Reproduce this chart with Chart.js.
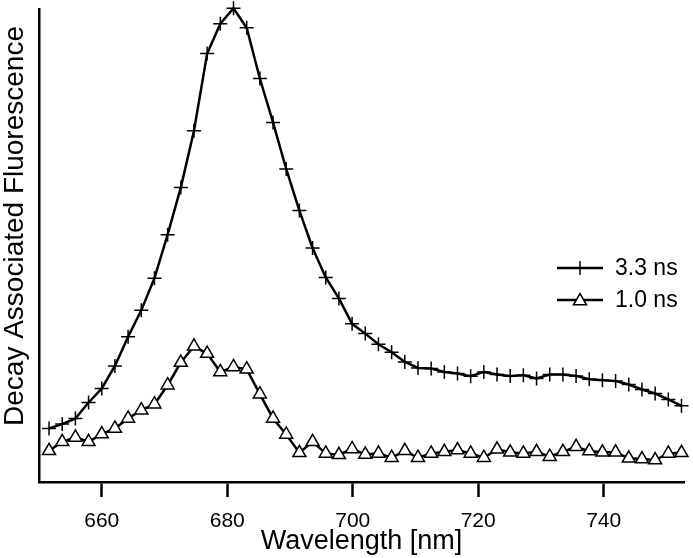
<!DOCTYPE html>
<html>
<head>
<meta charset="utf-8">
<script src="https://cdn.jsdelivr.net/npm/chart.js@4/dist/chart.umd.min.js"></script>
<style>
  html, body { margin: 0; padding: 0; background: #fff; }
  #wrap { width: 693px; height: 558px; position: relative; }
</style>
</head>
<body>
<div id="wrap"><canvas id="c" width="693" height="558"></canvas></div>
<script>
// Wavelengths [nm]
const wavelengths = [651.6, 653.7, 655.8, 657.9, 660.0, 662.1, 664.2, 666.3, 668.4, 670.5,
  672.6, 674.7, 676.8, 678.9, 681.0, 683.1, 685.2, 687.3, 689.4, 691.5,
  693.6, 695.7, 697.8, 699.9, 702.0, 704.1, 706.2, 708.3, 710.4, 712.5,
  714.6, 716.7, 718.8, 720.9, 723.0, 725.1, 727.2, 729.3, 731.4, 733.5,
  735.6, 737.7, 739.8, 741.9, 744.0, 746.1, 748.2, 750.3, 752.4];

// Decay associated fluorescence (arb. units), 3.3 ns component
const das33 = [11.33, 12.24, 13.44, 16.81, 19.77, 24.54, 30.70, 36.29, 43.10, 52.28,
  62.24, 74.26, 90.57, 96.90, 100.15, 96.05, 85.30, 76.01, 66.18, 57.38,
  49.47, 43.25, 38.82, 33.44, 31.37, 29.11, 27.43, 25.38, 24.11, 23.99,
  23.27, 22.93, 22.36, 23.27, 22.72, 22.43, 22.57, 21.88, 22.72, 22.72,
  22.43, 21.73, 21.52, 21.37, 20.61, 19.56, 18.71, 17.45, 16.10];

// Decay associated fluorescence (arb. units), 1.0 ns component
const das10 = [6.60, 8.50, 9.43, 8.50, 10.13, 11.33, 13.44, 15.19, 16.46, 20.46,
  25.25, 28.69, 27.15, 23.27, 24.32, 23.84, 18.57, 13.44, 10.06, 6.18,
  8.50, 6.05, 5.76, 7.00, 5.84, 6.05, 5.13, 6.60, 5.13, 6.05,
  6.39, 6.75, 6.05, 5.13, 6.90, 6.27, 6.05, 6.39, 5.34, 6.39,
  7.45, 6.54, 6.27, 6.27, 5.00, 4.85, 4.64, 6.05, 6.18];

const seriesLabels = ['3.3 ns', '1.0 ns'];
const xTicks = [660, 680, 700, 720, 740];
const xTitle = 'Wavelength [nm]';
const yTitle = 'Decay Associated Fluorescence';

const FONT = '"Liberation Sans", Arial, sans-serif';

function toPts(ys) { return wavelengths.map((x, i) => ({ x: x, y: ys[i] })); }

const legendPlugin = {
  id: 'customLegend',
  afterDraw(chart) {
    const ctx = chart.ctx;
    const ds = chart.data.datasets;
    const x0 = 557, x1 = 603, tx = 615;
    const ys = [268, 300];
    ctx.save();
    ds.forEach((d, i) => {
      const y = ys[i];
      ctx.strokeStyle = '#000';
      ctx.lineWidth = 2.5;
      ctx.beginPath(); ctx.moveTo(x0, y); ctx.lineTo(x1, y); ctx.stroke();
      ctx.lineWidth = d.pointBorderWidth;
      ctx.strokeStyle = '#000';
      ctx.fillStyle = d.pointBackgroundColor;
      Chart.helpers.drawPoint(ctx, { pointStyle: d.pointStyle, rotation: 0, radius: d.pointRadius, borderWidth: d.pointBorderWidth },
        (x0 + x1) / 2, y + (d.pointStyle === 'triangle' ? 1 : 0));
      ctx.fillStyle = '#000';
      ctx.font = '23px ' + FONT;
      ctx.textBaseline = 'middle';
      ctx.textAlign = 'left';
      ctx.fillText(d.label, tx, y + 1);
    });
    // y axis title
    ctx.translate(15, 226);
    ctx.rotate(-Math.PI / 2);
    ctx.font = '28px ' + FONT;
    ctx.textAlign = 'center';
    ctx.textBaseline = 'middle';
    ctx.fillStyle = '#000';
    ctx.fillText(yTitle, 0, 0);
    ctx.restore();
  }
};

new Chart(document.getElementById('c'), {
  type: 'line',
  data: {
    datasets: [
      {
        label: seriesLabels[0],
        data: toPts(das33),
        borderColor: '#000',
        borderWidth: 2.5,
        pointStyle: 'cross',
        pointRadius: 7,
        pointBorderWidth: 1.5,
        pointBorderColor: '#000',
        pointBackgroundColor: '#000',
        tension: 0,
        clip: false
      },
      {
        label: seriesLabels[1],
        data: toPts(das10),
        borderColor: '#000',
        borderWidth: 2.5,
        pointStyle: 'triangle',
        pointRadius: 7.5,
        pointBorderWidth: 1.5,
        pointBorderColor: '#000',
        pointBackgroundColor: '#fff',
        tension: 0,
        clip: false
      }
    ]
  },
  options: {
    responsive: false,
    animation: false,
    layout: { padding: { top: 8, right: 5, left: 0, bottom: 0 } },
    plugins: {
      legend: { display: false },
      tooltip: { enabled: false }
    },
    scales: {
      x: {
        type: 'linear',
        min: 650,
        max: 752.8,
        afterBuildTicks(scale) { scale.ticks = xTicks.map(v => ({ value: v })); },
        afterFit(scale) { scale.height = 76; },
        grid: { display: true, drawOnChartArea: false, drawTicks: true, tickLength: 15, tickWidth: 2.5, tickColor: '#000' },
        border: { display: true, color: '#000', width: 2.5 },
        ticks: { color: '#000', font: { family: FONT, size: 21 }, padding: 12, maxRotation: 0 },
        title: { display: true, text: xTitle, color: '#000', font: { family: FONT, size: 27 }, padding: { top: -6, bottom: 0 } }
      },
      y: {
        type: 'linear',
        min: 0,
        max: 100,
        afterFit(scale) { scale.width = 39; },
        grid: { display: false },
        border: { display: true, color: '#000', width: 2.5 },
        ticks: { display: false },
        title: { display: false, text: yTitle }
      }
    }
  },
  plugins: [legendPlugin]
});
</script>
</body>
</html>
